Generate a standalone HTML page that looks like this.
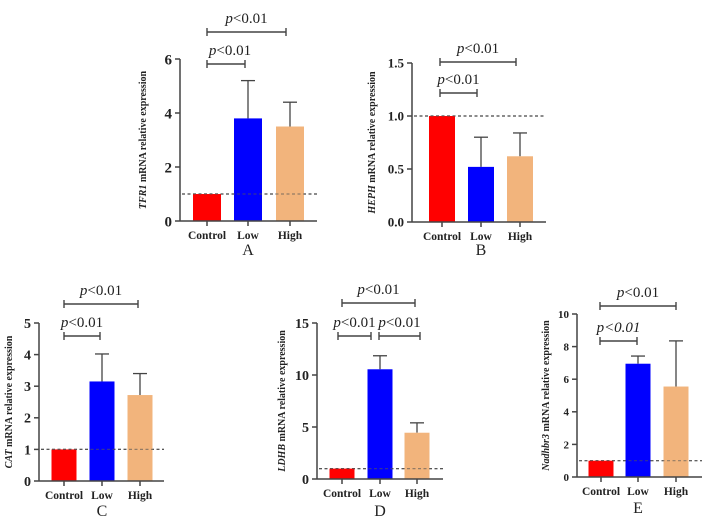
<!DOCTYPE html>
<html><head><meta charset="utf-8"><style>
html,body{margin:0;padding:0;background:#fff;}
svg{display:block;}
text{font-family:"Liberation Serif",serif;}
</style></head><body>
<svg id="fig" width="712" height="523" viewBox="0 0 712 523" xmlns="http://www.w3.org/2000/svg"></svg>
<script>
const categories = ["Control","Low","High"];
const colors = ["#ff0000","#0000ff","#f2b47c"];
const valuesA = [1, 3.8, 3.5];
const errTopA = [1, 5.2, 4.4];
const ticksA = [0, 2, 4, 6];
const valuesB = [1, 0.52, 0.62];
const errTopB = [1, 0.80, 0.84];
const ticksB = ["0.0","0.5","1.0","1.5"];
const valuesC = [1, 3.15, 2.72];
const errTopC = [1, 4.02, 3.4];
const ticksC = [0, 1, 2, 3, 4, 5];
const valuesD = [1, 10.55, 4.45];
const errTopD = [1, 11.85, 5.4];
const ticksD = [0, 5, 10, 15];
const valuesE = [1, 6.95, 5.55];
const errTopE = [1, 7.42, 8.35];
const ticksE = [0, 2, 4, 6, 8, 10];

const NS = "http://www.w3.org/2000/svg";
const svg = document.getElementById('fig');
function mk(tag, attrs, parent, txt){
  const e = document.createElementNS(NS, tag);
  for (const k in attrs) e.setAttribute(k, attrs[k]);
  if (txt !== undefined) e.textContent = txt;
  (parent || svg).appendChild(e);
  return e;
}
function pText(g, x, y, size, allItalic){
  const t = mk('text', {x:x, y:y, 'font-size':size, 'text-anchor':'middle', fill:'#222'}, g);
  
  
  const s1 = mk('tspan', {'font-style':'italic'}, t, 'p');
  const s2 = mk('tspan', allItalic ? {'font-style':'italic'} : {}, t, allItalic ? '<0.01' : '<0.01');
  return t;
}
function panel(cfg){
  const g = mk('g', {});
  
  
  const ymax = cfg.ymax;
  const Y = v => cfg.y0 - (v / ymax) * (cfg.y0 - cfg.yTop);
  // dashed reference line
  const dl = mk('line', {x1:cfg.ax+2, x2:cfg.xEnd, y1:Y(1), y2:Y(1), stroke:'#555', 'stroke-width':1.2, 'stroke-dasharray':'3,2.5'}, g);
  
  
  // bars
  for (let i = 0; i < 3; i++){
    const cx = cfg.centers[i];
    const v = cfg.values[i], e = cfg.err[i];
    if (e > v){
      const el = mk('line', {x1:cx, x2:cx, y1:Y(v), y2:Y(e), stroke:'#444', 'stroke-width':1.3}, g);
      
      
      const ec = mk('line', {x1:cx-7, x2:cx+7, y1:Y(e), y2:Y(e), stroke:'#444', 'stroke-width':1.3}, g);
      
      
    }
    const r = mk('rect', {x:cx - cfg.bw/2, y:Y(v), width:cfg.bw, height:cfg.y0 - Y(v), fill:colors[i]}, g);
    
    
  }
  // redraw dashed line over bars (it is visible across bars)
  const dl2 = mk('line', {x1:cfg.ax+2, x2:cfg.xEnd, y1:Y(1), y2:Y(1), stroke:'#555', 'stroke-width':1.2, 'stroke-dasharray':'3,2.5', opacity:0.6}, g);
  
  
  // axes
  const ya = mk('line', {x1:cfg.ax, x2:cfg.ax, y1:cfg.yTop, y2:cfg.y0, stroke:'#444', 'stroke-width':1.5}, g);
  
  
  const xa = mk('line', {x1:cfg.ax, x2:cfg.xEnd, y1:cfg.y0, y2:cfg.y0, stroke:'#444', 'stroke-width':1.5}, g);
  
  
  cfg.ticks.forEach(t => {
    const v = parseFloat(t);
    const y = Y(v);
    mk('line', {x1:cfg.ax-5, x2:cfg.ax, y1:y, y2:y, stroke:'#444', 'stroke-width':1.5}, g);
    const tl = mk('text', {x:cfg.ax-8, y:y + cfg.tickSize*0.35, 'font-size':cfg.tickSize, 'font-weight':'bold', 'text-anchor':'end', fill:'#222', 'font-family':cfg.tickFont}, g, String(t));
    
    
  });
  for (let i = 0; i < 3; i++){
    const cx = cfg.centers[i];
    mk('line', {x1:cx, x2:cx, y1:cfg.y0, y2:cfg.y0+5, stroke:'#444', 'stroke-width':1.5}, g);
    const cl = mk('text', {x:cx, y:cfg.catY, 'font-size':11.5, 'font-weight':'bold', 'text-anchor':'middle', fill:'#222'}, g, categories[i]);
    
    
  }
  // y title
  const ty = (cfg.yTop + cfg.y0)/2;
  const yt = mk('text', {x:0, y:0, transform:`translate(${cfg.titleX},${ty}) rotate(-90)`, 'font-size':10, 'font-weight':'bold', 'text-anchor':'middle', fill:'#222'}, g);
  
  
  mk('tspan', {'font-style':'italic'}, yt, cfg.gene);
  mk('tspan', {}, yt, ' mRNA relative expression');
  // panel letter
  const pl = mk('text', {x:cfg.centers[1], y:cfg.letterY, 'font-size':16, 'text-anchor':'middle', fill:'#222'}, g, cfg.letter);
  
  
  // brackets
  cfg.brackets.forEach(b => {
    const bg = mk('g', {}, g);
    
    
    mk('line', {x1:b[0], x2:b[1], y1:b[2], y2:b[2], stroke:'#444', 'stroke-width':1.4}, bg);
    mk('line', {x1:b[0], x2:b[0], y1:b[2]-4, y2:b[2]+4, stroke:'#444', 'stroke-width':1.4}, bg);
    mk('line', {x1:b[1], x2:b[1], y1:b[2]-4, y2:b[2]+4, stroke:'#444', 'stroke-width':1.4}, bg);
    pText(bg, (b[0]+b[1])/2 + (b[3]||0), b[2]-9, 15, b[4]);
  });
}
panel({letter:'A', gene:'TFR1', values:valuesA, err:errTopA, ticks:ticksA, ymax:6, ax:180, xEnd:317, yTop:59, y0:221, centers:[207,248,290], bw:28, tickSize:15, tickFont:'Liberation Sans, sans-serif', catY:239, letterY:255, titleX:146, brackets:[[207,245,64,4],[207,286,32,0]]});
panel({letter:'B', gene:'HEPH', values:valuesB, err:errTopB, ticks:ticksB, ymax:1.5, ax:412, xEnd:546, yTop:63, y0:222, centers:[442,481,520], bw:26, tickSize:13, tickFont:'Liberation Serif, serif', catY:240, letterY:255, titleX:375, brackets:[[440,477,93,0],[440,516,62,0]]});
panel({letter:'C', gene:'CAT', values:valuesC, err:errTopC, ticks:ticksC, ymax:5, ax:39, xEnd:164, yTop:323, y0:481, centers:[64,102,140], bw:25, tickSize:14, tickFont:'Liberation Serif, serif', catY:499, letterY:516, titleX:12, brackets:[[64,100,336,0],[64,138,304,0]]});
panel({letter:'D', gene:'LDHB', values:valuesD, err:errTopD, ticks:ticksD, ymax:15, ax:317, xEnd:443, yTop:323, y0:479, centers:[342,380,417], bw:25, tickSize:14, tickFont:'Liberation Serif, serif', catY:497, letterY:516, titleX:285, brackets:[[338,371,336,0],[379,420,336,0],[342,415,303,0]]});
panel({letter:'E', gene:'Nadhbr3', values:valuesE, err:errTopE, ticks:ticksE, ymax:10, ax:577, xEnd:702, yTop:314, y0:477, centers:[601,638,676], bw:25, tickSize:11, tickFont:'Liberation Serif, serif', catY:495, letterY:513, titleX:549, brackets:[[600,637,341,0,true],[600,676,306,0]]});
</script>
</body></html>
